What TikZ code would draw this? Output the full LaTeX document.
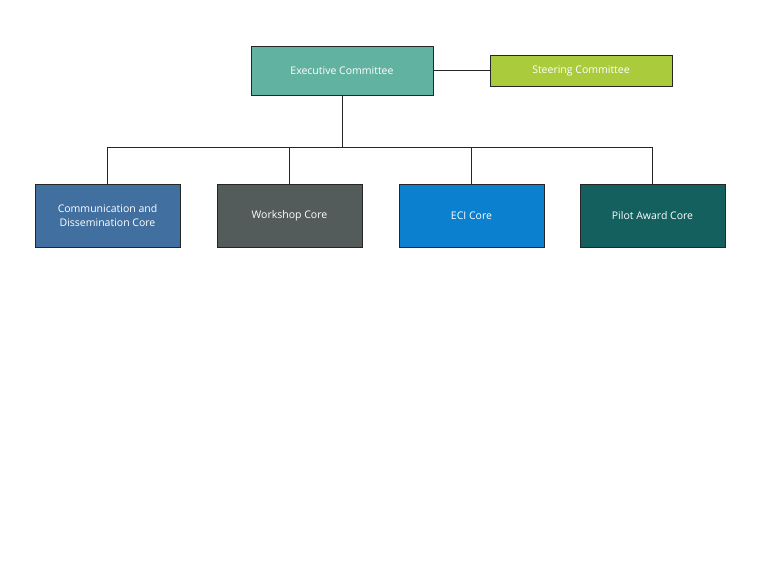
\documentclass[tikz,border=0pt]{standalone}
\usepackage{fontspec}
\setmainfont{Open Sans}
\begin{document}
\begin{tikzpicture}[x=1pt,y=-1pt,
 box/.style={draw=black!85,line width=0.6pt,text=white,align=center,font=\fontsize{10.5}{14}\selectfont,inner sep=0pt},
 ln/.style={draw=black!85,line width=0.6pt}]
\useasboundingbox[fill=white] (0,0) rectangle (760,570);
\definecolor{cExec}{HTML}{62B2A1}
\definecolor{cSteer}{HTML}{AACB3C}
\definecolor{cComm}{HTML}{416FA0}
\definecolor{cWork}{HTML}{535C5B}
\definecolor{cEci}{HTML}{0A80CF}
\definecolor{cPilot}{HTML}{13605E}
\node[box,fill=cExec,minimum width=182,minimum height=49] (exec) at (342,70.5) {Executive Committee};
\node[box,fill=cSteer,minimum width=182,minimum height=31] (steer) at (581,70.5) {Steering Committee};
\node[box,fill=cComm,minimum width=145,minimum height=63] (comm) at (107.5,215.5) {Communication and\\Dissemination Core};
\node[box,fill=cWork,minimum width=145,minimum height=63] (work) at (289.5,215.5) {Workshop Core};
\node[box,fill=cEci,minimum width=145,minimum height=63] (eci) at (471.5,215.5) {ECI Core};
\node[box,fill=cPilot,minimum width=145,minimum height=63] (pilot) at (652.5,215.5) {Pilot Award Core};
\coordinate (bus) at (342,147);
\draw[ln] (exec.east) -- (steer.west);
\draw[ln] (exec.south) -- (bus);
\draw[ln] (comm.north) |- (bus);
\draw[ln] (work.north) |- (bus);
\draw[ln] (eci.north) |- (bus);
\draw[ln] (pilot.north) |- (bus);
\end{tikzpicture}
\end{document}
